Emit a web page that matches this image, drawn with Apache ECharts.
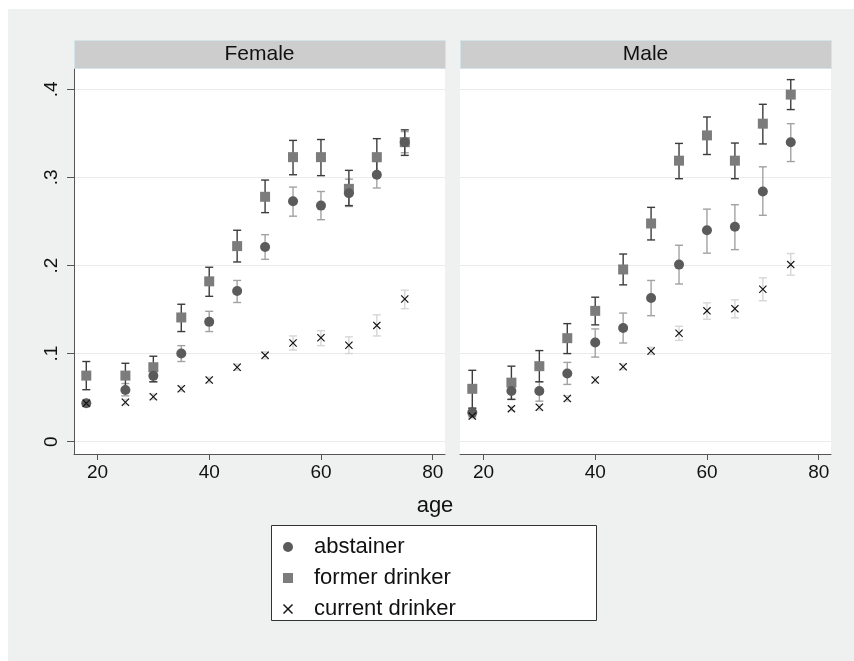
<!DOCTYPE html>
<html>
<head>
<meta charset="utf-8">
<script src="https://cdn.jsdelivr.net/npm/echarts@6/dist/echarts.min.js"></script>
<style>
  html, body { margin: 0; padding: 0; background: #ffffff; }
  #bg { position: absolute; left: 8px; top: 9px; width: 846px; height: 652px; background: #eff1f1; }
  #chart { position: absolute; left: 0; top: 0; width: 854px; height: 661px; }
</style>
</head>
<body>
<div id="bg"></div>
<div id="chart"></div>
<script>
// ---- data ----
const ages = [18, 25, 30, 35, 40, 45, 50, 55, 60, 65, 70, 75];
const xTicks = [20, 40, 60, 80];
const yTicks = [0, 0.1, 0.2, 0.3, 0.4];
const panels = ['Female', 'Male'];
const seriesNames = ['abstainer', 'former drinker', 'current drinker'];

const femaleAbst   = [0.0436, 0.0587, 0.0747, 0.100, 0.136, 0.171, 0.221, 0.273, 0.268, 0.282, 0.303, 0.340];
const femaleAbstLo = [0.040, 0.052, 0.068, 0.091, 0.125, 0.158, 0.207, 0.256, 0.252, 0.267, 0.288, 0.328];
const femaleAbstHi = [0.047, 0.066, 0.080, 0.109, 0.148, 0.183, 0.235, 0.289, 0.284, 0.298, 0.318, 0.352];

const femaleFormer   = [0.075, 0.075, 0.0845, 0.141, 0.182, 0.222, 0.278, 0.323, 0.323, 0.287, 0.323, 0.340];
const femaleFormerLo = [0.059, 0.060, 0.068, 0.125, 0.165, 0.204, 0.260, 0.303, 0.302, 0.268, 0.302, 0.325];
const femaleFormerHi = [0.091, 0.089, 0.097, 0.156, 0.198, 0.240, 0.297, 0.342, 0.343, 0.308, 0.344, 0.354];

const femaleCurrent   = [0.0436, 0.0448, 0.051, 0.060, 0.070, 0.0845, 0.098, 0.112, 0.118, 0.1095, 0.132, 0.162];
const femaleCurrentLo = [0.041, 0.042, 0.048, 0.057, 0.067, 0.081, 0.094, 0.104, 0.109, 0.100, 0.120, 0.151];
const femaleCurrentHi = [0.046, 0.048, 0.054, 0.063, 0.073, 0.088, 0.102, 0.120, 0.126, 0.119, 0.144, 0.172];

const maleAbst   = [0.033, 0.0576, 0.0576, 0.0773, 0.1125, 0.129, 0.163, 0.201, 0.240, 0.244, 0.284, 0.340];
const maleAbstLo = [0.028, 0.048, 0.046, 0.065, 0.096, 0.112, 0.143, 0.179, 0.214, 0.218, 0.257, 0.318];
const maleAbstHi = [0.038, 0.066, 0.068, 0.090, 0.128, 0.146, 0.183, 0.223, 0.264, 0.269, 0.312, 0.361];

const maleFormer   = [0.060, 0.067, 0.0857, 0.1175, 0.1485, 0.1955, 0.2477, 0.319, 0.3477, 0.319, 0.361, 0.394];
const maleFormerLo = [0.038, 0.048, 0.068, 0.100, 0.1326, 0.178, 0.229, 0.2985, 0.326, 0.2985, 0.338, 0.377];
const maleFormerHi = [0.081, 0.0857, 0.1034, 0.134, 0.164, 0.213, 0.266, 0.3386, 0.3686, 0.339, 0.383, 0.411];

const maleCurrent   = [0.029, 0.0375, 0.039, 0.049, 0.070, 0.085, 0.103, 0.123, 0.1485, 0.151, 0.173, 0.201];
const maleCurrentLo = [0.026, 0.035, 0.036, 0.046, 0.067, 0.082, 0.099, 0.115, 0.139, 0.1406, 0.160, 0.189];
const maleCurrentHi = [0.032, 0.040, 0.042, 0.052, 0.073, 0.088, 0.107, 0.131, 0.1576, 0.161, 0.186, 0.2136];

// ---- styling ----
const FONT = "'Liberation Sans', Arial, Helvetica, sans-serif";
const xIcon = 'path://M0,10 L10,0 L50,40 L90,0 L100,10 L60,50 L100,90 L90,100 L50,60 L10,100 L0,90 L40,50 Z';
const markerStyles = [
  { symbol: 'circle', size: 10, color: '#5b5b5b', bar: '#a2a2a2', z: 4 },
  { symbol: 'rect',   size: 10, color: '#7c7c7c', bar: '#3c3c3c', z: 3 },
  { symbol: xIcon,    size: 8,  color: '#111111', bar: '#d6d6d6', z: 5 }
];
const panelData = [
  [[femaleAbst, femaleAbstLo, femaleAbstHi], [femaleFormer, femaleFormerLo, femaleFormerHi], [femaleCurrent, femaleCurrentLo, femaleCurrentHi]],
  [[maleAbst, maleAbstLo, maleAbstHi], [maleFormer, maleFormerLo, maleFormerHi], [maleCurrent, maleCurrentLo, maleCurrentHi]]
];

const gridLefts = [74, 460];
const gridW = 371, gridTop = 68, gridH = 386;

function fmtY(v) {
  if (Math.abs(v) < 1e-9) return '0';
  return String(Math.round(v * 10) / 10).replace(/^0/, '');
}

const grids = gridLefts.map(l => ({
  left: l, top: gridTop, width: gridW, height: gridH,
  show: true, backgroundColor: '#ffffff', borderWidth: 0, containLabel: false
}));

const xAxes = panels.map((p, i) => ({
  type: 'value', gridIndex: i, min: 15.8, max: 82.2,
  axisLine: { show: true, onZero: false, lineStyle: { color: '#555', width: 1 } },
  axisTick: { show: true, length: 6, lineStyle: { color: '#555' }, customValues: xTicks },
  axisLabel: { show: true, customValues: xTicks, fontFamily: FONT, fontSize: 19, color: '#111', margin: 9 },
  splitLine: { show: false }
}));

const yAxes = panels.map((p, i) => ({
  type: 'value', gridIndex: i, min: -0.014, max: 0.4242,
  axisLine: { show: i === 0, onZero: false, lineStyle: { color: '#555', width: 1 } },
  axisTick: { show: i === 0, length: 7, lineStyle: { color: '#555' }, customValues: yTicks },
  axisLabel: { show: i === 0, customValues: yTicks, rotate: 90, formatter: fmtY,
               fontFamily: FONT, fontSize: 19, color: '#111', margin: 13 },
  splitLine: { show: true, lineStyle: { color: '#ebebeb', width: 1 } }
}));

function errRender(color) {
  return function (params, api) {
    const x = api.value(0), lo = api.value(1), hi = api.value(2);
    const p1 = api.coord([x, lo]), p2 = api.coord([x, hi]);
    const w = 4;
    const style = { stroke: color, lineWidth: 1.4, fill: null };
    return {
      type: 'group',
      children: [
        { type: 'line', shape: { x1: p1[0], y1: p1[1], x2: p2[0], y2: p2[1] }, style },
        { type: 'line', shape: { x1: p1[0] - w, y1: p1[1], x2: p1[0] + w, y2: p1[1] }, style },
        { type: 'line', shape: { x1: p2[0] - w, y1: p2[1], x2: p2[0] + w, y2: p2[1] }, style }
      ]
    };
  };
}

const series = [];
panels.forEach((p, gi) => {
  panelData[gi].forEach((trip, si) => {
    const ms = markerStyles[si];
    const [mean, lo, hi] = trip;
    series.push({
      type: 'custom', name: seriesNames[si] + ' CI', xAxisIndex: gi, yAxisIndex: gi,
      renderItem: errRender(ms.bar), z: 1 + (si === 1 ? 1 : 0), silent: true,
      encode: { x: 0, y: [1, 2] },
      data: ages.map((a, k) => [a, lo[k], hi[k]])
    });
    series.push({
      type: 'scatter', name: seriesNames[si], xAxisIndex: gi, yAxisIndex: gi,
      symbol: ms.symbol, symbolSize: ms.size, z: ms.z, clip: false,
      itemStyle: { color: ms.color, opacity: 1 },
      emphasis: { disabled: true },
      data: ages.map((a, k) => [a, mean[k]])
    });
  });
});

const graphics = [];
panels.forEach((p, i) => {
  graphics.push({
    type: 'rect', left: gridLefts[i], top: 40, z: 10,
    shape: { width: gridW, height: 28 },
    style: { fill: '#cdcdcd', stroke: '#d3e3ea', lineWidth: 1 }
  });
  graphics.push({
    type: 'text', z: 11, x: gridLefts[i] + gridW / 2, y: 54,
    style: { text: p, fontFamily: FONT, fontSize: 21, fill: '#111', align: 'center', verticalAlign: 'middle' }
  });
});
graphics.push({
  type: 'text', z: 11, x: 435, y: 506,
  style: { text: 'age', fontFamily: FONT, fontSize: 22, fill: '#111', align: 'center', verticalAlign: 'middle' }
});
graphics.push({
  type: 'rect', x: 271.5, y: 525.5, z: 0,
  shape: { width: 325, height: 95 },
  style: { fill: '#ffffff', stroke: '#333', lineWidth: 1 }
});

const chart = echarts.init(document.getElementById('chart'), null, { renderer: 'canvas' });
chart.setOption({
  backgroundColor: 'transparent',
  animation: false,
  grid: grids,
  xAxis: xAxes,
  yAxis: yAxes,
  legend: {
    left: 283, top: 536, orient: 'vertical', padding: 0, itemGap: 9,
    itemWidth: 10, itemHeight: 10, selectedMode: false, z: 20,
    textStyle: { fontFamily: FONT, fontSize: 22, lineHeight: 22, color: '#111', padding: [0, 0, 0, 16] },
    data: [
      { name: seriesNames[0], icon: 'circle', itemStyle: { color: markerStyles[0].color } },
      { name: seriesNames[1], icon: 'rect', itemStyle: { color: markerStyles[1].color } },
      { name: seriesNames[2], icon: xIcon, itemStyle: { color: markerStyles[2].color } }
    ]
  },
  graphic: graphics,
  series: series
});
</script>
</body>
</html>
